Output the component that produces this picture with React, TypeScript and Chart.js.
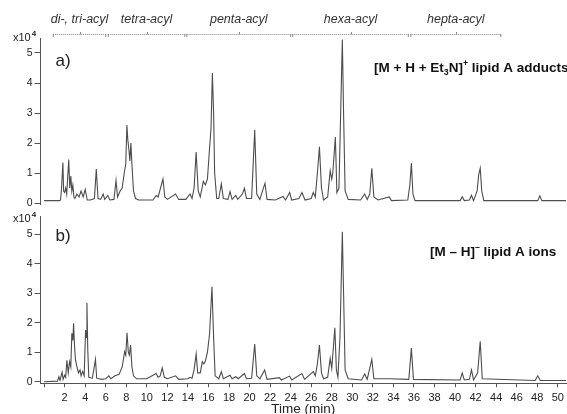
import React, { useEffect, useRef } from "react";
import { Chart, registerables } from "chart.js";
Chart.register(...registerables);

// Panel a) [M + H + Et3N]+ lipid A adducts  (time in min, intensity x10^4)
const timesA = [0, 1.5, 1.6, 1.7, 1.83, 1.9, 2.0, 2.1, 2.2, 2.4, 2.5, 2.6, 2.7, 2.8, 2.9, 3.0, 3.2, 3.4, 3.6, 3.8, 4.0, 4.2, 4.5, 4.9, 5.08, 5.25, 5.5, 5.75, 5.9, 6.2, 6.4, 6.8, 7.0, 7.15, 7.4, 7.6, 7.8, 7.95, 8.06, 8.15, 8.25, 8.35, 8.45, 8.55, 8.7, 8.9, 9.2, 10.6, 10.9, 11.1, 11.57, 11.75, 12.0, 12.8, 13.1, 13.8, 14.2, 14.4, 14.6, 14.8, 15.0, 15.2, 15.5, 15.7, 15.9, 16.1, 16.25, 16.38, 16.5, 16.6, 16.8, 17.0, 17.25, 17.45, 17.9, 18.1, 18.3, 18.65, 18.85, 19.3, 19.5, 19.7, 20.2, 20.5, 20.7, 21.0, 21.5, 21.7, 22.5, 23.25, 23.5, 23.9, 24.1, 24.8, 25.1, 25.4, 26.0, 26.2, 26.4, 26.65, 26.8, 27.0, 27.2, 27.6, 27.85, 28.0, 28.1, 28.35, 28.5, 28.7, 28.9, 29.03, 29.15, 29.3, 29.6, 30.8, 31.2, 31.45, 31.7, 31.9, 32.1, 32.5, 33.6, 33.8, 35.4, 35.6, 35.75, 35.9, 36.1, 40.5, 40.7, 40.9, 41.4, 41.6, 41.8, 42.15, 42.3, 42.45, 42.6, 42.8, 48.05, 48.25, 48.45, 50.8];
const intensityA = [0.08, 0.08, 0.1, 0.5, 1.35, 0.4, 0.35, 0.5, 0.3, 1.45, 0.5, 0.9, 0.4, 0.6, 0.2, 0.15, 0.3, 0.2, 0.4, 0.2, 0.45, 0.1, 0.1, 0.15, 1.13, 0.15, 0.12, 0.3, 0.12, 0.25, 0.1, 0.12, 0.75, 0.2, 0.4, 0.5, 1.0, 1.3, 2.6, 2.1, 1.8, 1.4, 2.0, 1.3, 0.4, 0.15, 0.1, 0.1, 0.25, 0.2, 0.8, 0.2, 0.12, 0.3, 0.12, 0.12, 0.3, 0.15, 0.5, 1.7, 0.4, 0.2, 0.72, 0.6, 0.8, 1.8, 2.5, 4.33, 3.0, 1.0, 0.15, 0.15, 0.64, 0.15, 0.12, 0.38, 0.12, 0.25, 0.12, 0.3, 0.49, 0.15, 0.15, 2.43, 0.3, 0.12, 0.66, 0.12, 0.1, 0.22, 0.1, 0.35, 0.1, 0.15, 0.35, 0.1, 0.15, 0.35, 0.2, 1.2, 1.87, 0.5, 0.1, 0.2, 1.08, 0.8, 1.0, 2.2, 0.35, 0.5, 3.5, 5.45, 3.0, 0.4, 0.12, 0.1, 0.3, 0.12, 0.3, 1.16, 0.2, 0.1, 0.2, 0.08, 0.1, 0.6, 1.33, 0.3, 0.08, 0.08, 0.21, 0.08, 0.1, 0.26, 0.08, 0.4, 0.94, 1.16, 0.4, 0.08, 0.08, 0.24, 0.08, 0.08];

// Panel b) [M – H]– lipid A ions
const timesB = [0, 1.3, 1.44, 1.55, 1.75, 1.85, 2.0, 2.1, 2.22, 2.35, 2.48, 2.6, 2.7, 2.8, 2.87, 2.95, 3.05, 3.2, 3.35, 3.5, 3.6, 3.75, 3.9, 4.04, 4.1, 4.17, 4.25, 4.35, 4.7, 5.0, 5.12, 5.6, 6.0, 6.3, 6.5, 6.9, 7.3, 7.6, 7.84, 7.95, 8.07, 8.2, 8.3, 8.42, 8.55, 8.7, 9.0, 10.0, 10.9, 11.1, 11.3, 11.5, 11.7, 12.0, 12.8, 13.1, 14.0, 14.2, 14.4, 14.6, 14.8, 14.95, 15.2, 15.4, 15.55, 15.7, 15.9, 16.1, 16.34, 16.5, 16.65, 17.0, 17.25, 17.45, 18.1, 18.3, 18.65, 18.9, 19.5, 19.7, 20.2, 20.5, 20.7, 21.0, 21.47, 21.7, 22.9, 23.1, 23.9, 24.1, 25.1, 25.35, 26.2, 26.4, 26.6, 26.8, 27.0, 27.2, 27.6, 27.85, 28.0, 28.3, 28.45, 28.6, 28.8, 29.03, 29.15, 29.3, 29.6, 30.9, 31.2, 31.45, 31.9, 32.1, 33.6, 35.5, 35.75, 35.95, 40.5, 40.7, 40.9, 41.4, 41.6, 41.8, 42.2, 42.45, 42.65, 47.8, 48.05, 48.3, 50.8];
const intensityB = [0.0, 0.02, 0.17, 0.05, 0.32, 0.08, 0.22, 0.15, 0.73, 0.3, 0.68, 0.5, 1.64, 1.4, 1.98, 1.3, 0.75, 0.5, 0.3, 0.4, 0.2, 0.35, 0.2, 1.75, 1.5, 2.68, 1.1, 0.15, 0.12, 0.76, 0.12, 0.08, 0.1, 0.2, 0.1, 0.2, 0.25, 0.5, 1.02, 0.9, 1.66, 1.0, 0.9, 1.24, 0.5, 0.2, 0.1, 0.1, 0.28, 0.15, 0.2, 0.47, 0.15, 0.1, 0.2, 0.08, 0.1, 0.15, 0.12, 0.4, 0.94, 0.3, 0.3, 0.68, 0.6, 0.7, 1.0, 1.6, 3.22, 1.5, 0.2, 0.1, 0.34, 0.1, 0.22, 0.1, 0.17, 0.1, 0.28, 0.1, 0.12, 1.28, 0.2, 0.1, 0.4, 0.08, 0.14, 0.06, 0.19, 0.06, 0.28, 0.08, 0.34, 0.2, 0.6, 1.24, 0.3, 0.1, 0.15, 0.79, 0.45, 1.83, 0.4, 0.15, 1.5, 5.08, 3.0, 0.4, 0.1, 0.06, 0.26, 0.08, 0.76, 0.1, 0.1, 0.08, 1.14, 0.08, 0.06, 0.3, 0.06, 0.08, 0.4, 0.06, 0.3, 1.37, 0.1, 0.04, 0.2, 0.04, 0.04];

const xTicks = [0, 2, 4, 6, 8, 10, 12, 14, 16, 18, 20, 22, 24, 26, 28, 30, 32, 34, 36, 38, 40, 42, 44, 46, 48, 50];
const yTicks = [0, 1, 2, 3, 4, 5];

const groupLabels = ["di-, tri-acyl", "tetra-acyl", "penta-acyl", "hexa-acyl", "hepta-acyl"];
const groupStart = [0.85, 6.2, 13.85, 24.15, 35.65];
const groupEnd = [6.05, 13.75, 24.05, 35.5, 44.5];

const X_MIN = -0.35;
const X_MAX = 50.8;
const FONT = "'Liberation Sans', Arial, sans-serif";
const AXIS = "#555";
const TEXT = "#222";

function drawExp(ctx: CanvasRenderingContext2D, x: number, y: number) {
  ctx.fillStyle = TEXT;
  ctx.textAlign = "left";
  ctx.textBaseline = "alphabetic";
  ctx.font = `11px ${FONT}`;
  ctx.fillText("x10", x, y);
  const w = ctx.measureText("x10").width;
  ctx.font = `bold 8px ${FONT}`;
  ctx.fillText("4", x + w + 1, y - 5);
}

function drawParts(ctx: CanvasRenderingContext2D, parts: [string, number][], x: number, y: number, size: number) {
  let cx = x;
  for (const [s, kind] of parts) {
    const fs = kind === 0 ? size : size * 0.65;
    ctx.font = `bold ${fs}px ${FONT}`;
    const dy = kind === 1 ? -size * 0.42 : kind === -1 ? size * 0.25 : 0;
    ctx.fillText(s, cx, y + dy);
    cx += ctx.measureText(s).width;
  }
}

const topPlugin = {
  id: "topDecor",
  afterDraw(chart: any) {
    const ctx = chart.ctx as CanvasRenderingContext2D;
    const xs = chart.scales.x;
    const area = chart.chartArea;
    ctx.save();
    const by = 34;
    for (let i = 0; i < groupLabels.length; i++) {
      const x1 = xs.getPixelForValue(groupStart[i]);
      const x2 = xs.getPixelForValue(groupEnd[i]);
      ctx.strokeStyle = "#888";
      ctx.lineWidth = 1;
      ctx.setLineDash([1, 1]);
      ctx.beginPath();
      ctx.moveTo(x1, by + 0.5);
      ctx.lineTo(x2, by + 0.5);
      ctx.stroke();
      ctx.setLineDash([]);
      ctx.beginPath();
      ctx.moveTo(x1 + 0.5, by);
      ctx.lineTo(x1 + 0.5, by + 3);
      ctx.moveTo(x2 - 0.5, by);
      ctx.lineTo(x2 - 0.5, by + 3);
      const mx = Math.round((x1 + x2) / 2) + 0.5;
      ctx.moveTo(mx, by - 2);
      ctx.lineTo(mx, by + 0.5);
      ctx.stroke();
      ctx.fillStyle = "#333";
      ctx.font = `italic 12.5px ${FONT}`;
      ctx.textAlign = "center";
      ctx.textBaseline = "alphabetic";
      ctx.fillText(groupLabels[i], (x1 + x2) / 2, 23);
    }
    drawExp(ctx, 13, 41);
    ctx.fillStyle = TEXT;
    ctx.font = `17px ${FONT}`;
    ctx.textAlign = "left";
    ctx.fillText("a)", area.left + 15, 66);
    ctx.fillStyle = "#111";
    drawParts(ctx, [["[M + H + Et", 0], ["3", -1], ["N]", 0], ["+", 1], [" lipid A adducts", 0]], 374, 72, 13.5);
    ctx.restore();
  },
};

const bottomPlugin = {
  id: "bottomDecor",
  afterDraw(chart: any) {
    const ctx = chart.ctx as CanvasRenderingContext2D;
    const area = chart.chartArea;
    ctx.save();
    drawExp(ctx, 13, 15);
    ctx.fillStyle = TEXT;
    ctx.font = `17px ${FONT}`;
    ctx.textAlign = "left";
    ctx.fillText("b)", area.left + 15, 34);
    ctx.fillStyle = "#111";
    drawParts(ctx, [["[M \u2013 H]", 0], ["\u2013", 1], [" lipid A ions", 0]], 430, 49, 13.5);
    ctx.fillStyle = TEXT;
    ctx.font = `13.5px ${FONT}`;
    ctx.textAlign = "center";
    ctx.fillText("Time (min)", (area.left + area.right) / 2, 206);
    ctx.restore();
  },
};

function makeConfig(times: number[], vals: number[], bottom: boolean, yMax: number, padTop: number, padBottom: number, plugin: any) {
  return {
    type: "line" as const,
    data: {
      datasets: [
        {
          data: times.map((t, i) => ({ x: t, y: vals[i] })),
          borderColor: "#4d4d4d",
          borderWidth: 1.1,
          pointRadius: 0,
          tension: 0,
          fill: false,
        },
      ],
    },
    plugins: [plugin],
    options: {
      responsive: false,
      animation: false as const,
      devicePixelRatio: 1,
      layout: { padding: { top: padTop, bottom: padBottom, left: 0, right: 1 } },
      plugins: { legend: { display: false }, tooltip: { enabled: false } },
      scales: {
        x: {
          type: "linear" as const,
          min: X_MIN,
          max: X_MAX,
          display: bottom,
          afterBuildTicks: (s: any) => {
            s.ticks = xTicks.map((v) => ({ value: v }));
          },
          afterFit: (s: any) => {
            if (bottom) s.height = 30.8;
            s.paddingLeft = 0;
            s.paddingRight = 0;
          },
          grid: { drawOnChartArea: false, tickLength: 4, color: AXIS },
          border: { display: true, color: AXIS },
          ticks: {
            autoSkip: false,
            maxRotation: 0,
            padding: 4,
            color: TEXT,
            font: { family: FONT, size: 11 },
            callback: (v: any) => (v === 0 ? "" : String(v)),
          },
        },
        y: {
          type: "linear" as const,
          min: -0.05,
          max: yMax,
          afterBuildTicks: (s: any) => {
            s.ticks = yTicks.map((v) => ({ value: v }));
          },
          afterFit: (s: any) => {
            s.width = 40.5;
            s.paddingTop = 0;
            s.paddingBottom = 0;
          },
          grid: { drawOnChartArea: false, tickLength: 6, color: AXIS },
          border: { display: true, color: AXIS },
          ticks: {
            padding: 2,
            color: TEXT,
            font: { family: FONT, size: 10.5 },
            callback: (v: any) => String(v),
          },
        },
      },
    },
  };
}

export default function App() {
  const topRef = useRef<HTMLCanvasElement>(null);
  const botRef = useRef<HTMLCanvasElement>(null);
  useEffect(() => {
    const c1 = new Chart(topRef.current!, makeConfig(timesA, intensityA, false, 5.5, 38, 2.5, topPlugin) as any);
    const c2 = new Chart(botRef.current!, makeConfig(timesB, intensityB, true, 5.6, 9.5, 0, bottomPlugin) as any);
    return () => {
      c1.destroy();
      c2.destroy();
    };
  }, []);
  return (
    <div style={{ position: "fixed", left: 0, top: 0, width: 567, height: 414, background: "#fff", overflow: "hidden" }}>
      <canvas ref={topRef} width={567} height={207} style={{ position: "absolute", left: 0, top: 0, width: 567, height: 207 }} />
      <canvas ref={botRef} width={567} height={207} style={{ position: "absolute", left: 0, top: 207, width: 567, height: 207 }} />
    </div>
  );
}
